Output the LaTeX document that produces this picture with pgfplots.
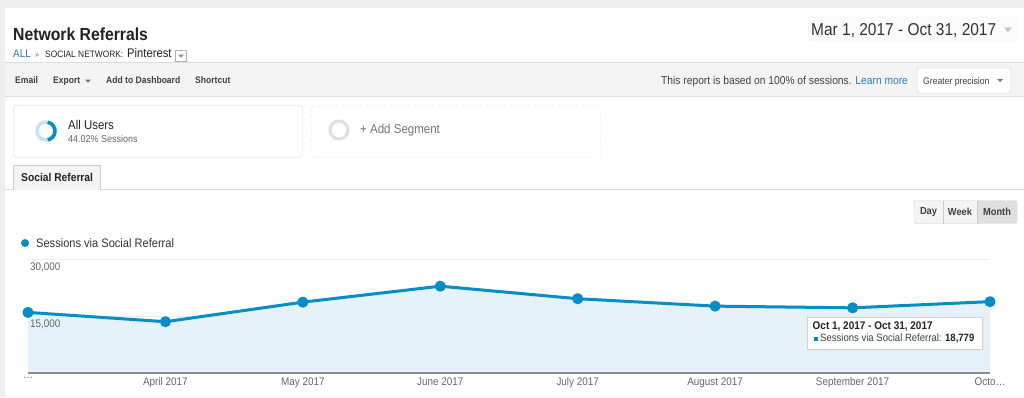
\documentclass[border=0pt]{standalone}
\usepackage{pgfplots}
\pgfplotsset{compat=1.18}
\usepackage{fontspec}
\setmainfont{Liberation Sans}[FakeStretch=0.9]
\definecolor{gablue}{HTML}{058DC7}
\definecolor{areafill}{HTML}{E5F2F9}
\definecolor{ringlight}{HTML}{C6E3F3}
\definecolor{linkblue}{HTML}{2B7BB9}
\definecolor{txt}{HTML}{222222}
\definecolor{txtgray}{HTML}{666666}
\definecolor{pagebg}{HTML}{EFEFEF}
\definecolor{barbg}{HTML}{F4F4F4}
\definecolor{bord}{HTML}{DDDDDD}
\newcommand{\fs}[1]{\fontsize{#1}{#1}\selectfont}
\pgfplotstableread{
x y
0 15950
1 13500
2 18650
3 22850
4 19550
5 17600
6 17150
7 18779
}\sessions
\pgfplotsset{chartgeom/.style={
  at={(28pt,-373pt)}, anchor=south west,
  scale only axis, width=962pt, height=114pt,
  xmin=0, xmax=7, ymin=0, ymax=30000, clip=false}}
\begin{document}
\begin{tikzpicture}
\begin{scope}[x=1pt,y=-1pt]
\useasboundingbox (0,0) rectangle (1024,397);
\fill[white] (0,0) rectangle (1024,397);
\fill[pagebg] (0,0) rectangle (1024,8);
\fill[pagebg] (0,0) rectangle (5,397);
% header
\node[anchor=base west, inner sep=0, font=\fs{17.5}\bfseries, text=txt] at (13,40) {Network Referrals};
\node[anchor=base west, inner sep=0, font=\fs{11}, text=linkblue] at (13,57.5) {ALL};
\node[anchor=base west, inner sep=0, font=\fs{8}, text=txtgray] at (35,57) {»};
\node[anchor=base west, inner sep=0, font=\fs{9.3}, text=txt] at (45,57.5) {SOCIAL NETWORK:};
\node[anchor=base west, inner sep=0, font=\fs{12.5}, text=txt] at (127,57.5) {Pinterest};
\draw[black!30, fill=white] (175.5,50.5) rectangle (186.5,61.5);
\fill[black!45] (178,54.5) -- (184,54.5) -- (181,57.5) -- cycle;
% date range
\draw[black!6, fill=black!1.5, rounded corners=2] (808,17) rectangle (1017,41);
\node[anchor=base west, inner sep=0, font=\fs{17.2}, text=black!80] at (811,35.5) {Mar 1, 2017 - Oct 31, 2017};
\fill[black!25] (1004,27.5) -- (1012,27.5) -- (1008,32) -- cycle;
% toolbar
\fill[barbg] (5,62) rectangle (1024,97);
\draw[bord] (5,62.5) -- (1024,62.5);
\draw[bord] (5,96.5) -- (1024,96.5);
\node[anchor=base west, inner sep=0, font=\fs{9.5}\bfseries, text=black!75] at (15,83.5) {Email};
\node[anchor=base west, inner sep=0, font=\fs{9.5}\bfseries, text=black!75] at (53,83.5) {Export};
\fill[black!55] (85,79.5) -- (91,79.5) -- (88,82.5) -- cycle;
\node[anchor=base west, inner sep=0, font=\fs{9.5}\bfseries, text=black!75] at (106,83.5) {Add to Dashboard};
\node[anchor=base west, inner sep=0, font=\fs{9.5}\bfseries, text=black!75] at (195,83.5) {Shortcut};
\node[anchor=base west, inner sep=0, font=\fs{11.4}, text=black!75] at (661,84) {This report is based on 100\% of sessions. \textcolor{linkblue}{Learn more}};
\draw[black!22, fill=white, rounded corners=2] (917,68) rectangle (1011,93);
\node[anchor=base west, inner sep=0, font=\fs{9.6}, text=black!75] at (923,84) {Greater precision};
\fill[black!55] (997,79) -- (1003,79) -- (1000,82) -- cycle;
% segments
\draw[black!15, fill=white, rounded corners=3] (13.5,105.5) rectangle (302.5,157.5);
\draw[ringlight, line width=3.5pt] (46,131) circle[radius=9];
\draw[gablue, line width=3.5pt] (46,131) ++(-79:9) arc[start angle=-79, end angle=79, radius=9];
\node[anchor=base west, inner sep=0, font=\fs{12.7}, text=txt] at (68,129) {All Users};
\node[anchor=base west, inner sep=0, font=\fs{10}, text=txtgray] at (68,142) {44.02\% Sessions};
\draw[black!12, dashed, rounded corners=3] (311.5,105.5) rectangle (600.5,157.5);
\draw[black!12, line width=3pt] (339,130) circle[radius=9];
\node[anchor=base west, inner sep=0, font=\fs{12.8}, text=black!55] at (360,133) {+ Add Segment};
% tab
\draw[bord] (5,189.5) -- (1024,189.5);
\draw[black!20, fill=barbg] (13.5,189.5) -- (13.5,165.5) -- (100.5,165.5) -- (100.5,189.5);
\node[anchor=base west, inner sep=0, font=\fs{11.4}\bfseries, text=txt] at (21,181) {Social Referral};
% day week month
\draw[black!20, fill=barbg, rounded corners=2] (914,200.5) rectangle (1017,223.5);
\fill[black!13] (977,201) rectangle (1016.5,223);
\draw[black!20] (943,200.5) -- (943,223.5);
\draw[black!20] (977,200.5) -- (977,223.5);
\node[inner sep=0, font=\fs{10.3}\bfseries, text=black!75] at (928.5,212) {Day};
\node[inner sep=0, font=\fs{10.3}\bfseries, text=black!75] at (960,212) {Week};
\node[inner sep=0, font=\fs{10.3}\bfseries, text=black!75] at (997,212) {Month};
% legend
\fill[gablue] (25,243) circle[radius=4];
\node[anchor=base west, inner sep=0, font=\fs{12.3}, text=black!80] at (36,247) {Sessions via Social Referral};
\end{scope}
% area (below grid)
\begin{axis}[chartgeom, hide axis]
\addplot[fill=areafill, draw=none] table[x=x, y=y] {\sessions} \closedcycle;
\end{axis}
% grid, labels, line
\begin{axis}[
  chartgeom,
  axis lines*=left,
  separate axis lines,
  x axis line style={draw=black!45, line width=1.2pt},
  y axis line style={draw=none},
  major tick length=0pt,
  xtick={0,...,7},
  xticklabels={\ldots, April 2017, May 2017, June 2017, July 2017, August 2017, September 2017, Octo\ldots},
  ytick={15000,30000},
  ymajorgrids, grid style={draw=black!7, line width=0.8pt},
  scaled y ticks=false,
  /pgf/number format/1000 sep={,},
  /pgf/number format/assume math mode=true,
  ticklabel style={font=\fs{11}, text=txtgray},
  yticklabel style={anchor=north west, inner sep=0pt, xshift=2pt, yshift=-4pt},
  xticklabel style={yshift=-1pt},
]
\addplot[gablue, line width=3pt, line join=round, mark=*, mark size=4pt, mark options={solid, fill=gablue, draw=none}] table[x=x, y=y] {\sessions};
\end{axis}
\begin{scope}[x=1pt,y=-1pt]
% tooltip
\fill[black!10] (809,319) rectangle (984,351);
\draw[black!18, fill=white] (807.5,317.5) rectangle (982.5,349.5);
\node[anchor=base west, inner sep=0, font=\fs{11.1}\bfseries, text=txt] at (812.5,329.5) {Oct 1, 2017 - Oct 31, 2017};
\fill[gablue] (814,337) rectangle (818,341);
\node[anchor=base west, inner sep=0, font=\fs{10.6}, text=black!75] at (820,341.5) {Sessions via Social Referral: \textcolor{txt}{\bfseries 18,779}};
\end{scope}
\end{tikzpicture}
\end{document}
